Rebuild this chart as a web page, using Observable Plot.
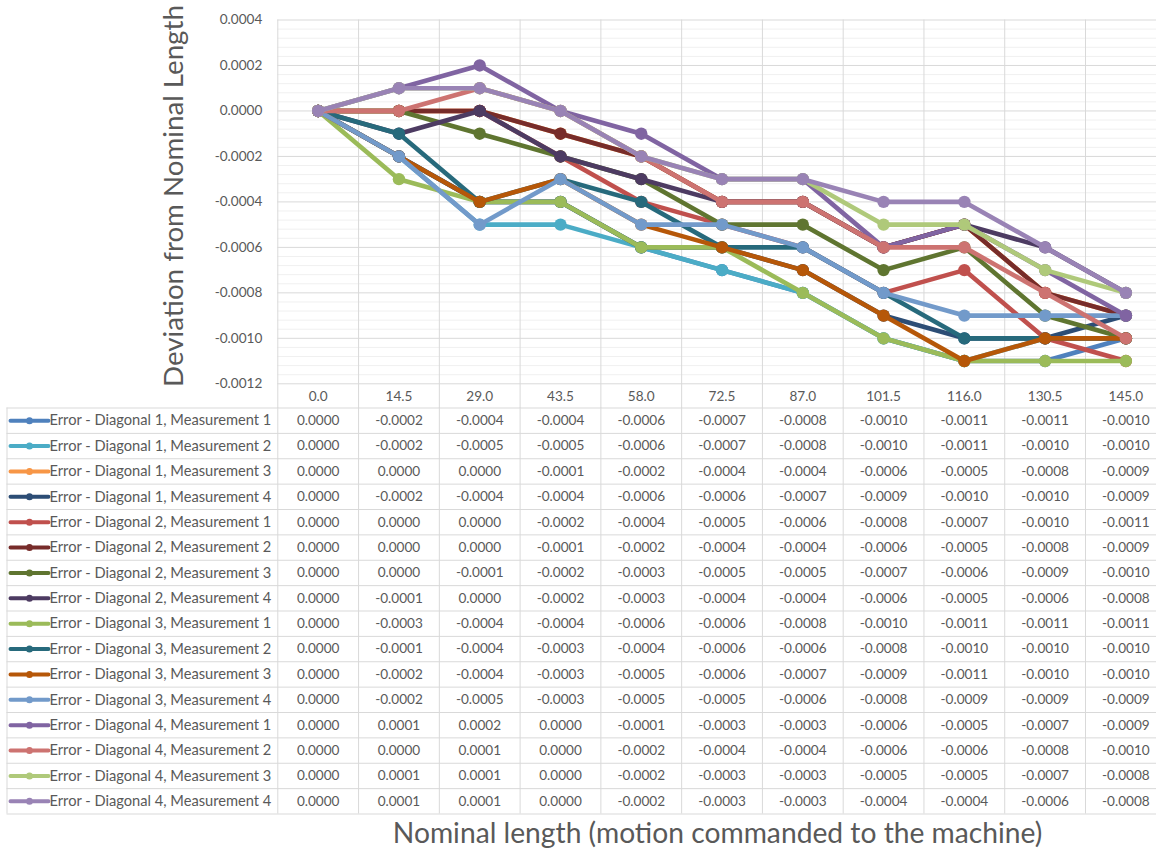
<!DOCTYPE html>
<html><head><meta charset="utf-8">
<script src="https://cdn.jsdelivr.net/npm/d3@7"></script>
<script src="https://cdn.jsdelivr.net/npm/@observablehq/plot@0.6"></script>
<style>
html,body{margin:0;padding:0;background:#fff;}
#wrap{position:relative;width:1156px;height:852px;overflow:hidden;background:#fff;}
#chart,#table{position:absolute;left:0;width:1168px;}
#chart{top:0;}
#table{top:407px;}
#titles{position:absolute;left:0;top:0;}
</style></head><body>
<div id="wrap"><div id="chart"></div><div id="table"></div><svg id="titles" width="1156" height="852"></svg></div>
<script>
// ---- data ----
const lengths = [0.0, 14.5, 29.0, 43.5, 58.0, 72.5, 87.0, 101.5, 116.0, 130.5, 145.0];
const seriesNames = [
  "Error - Diagonal 1, Measurement 1","Error - Diagonal 1, Measurement 2","Error - Diagonal 1, Measurement 3","Error - Diagonal 1, Measurement 4",
  "Error - Diagonal 2, Measurement 1","Error - Diagonal 2, Measurement 2","Error - Diagonal 2, Measurement 3","Error - Diagonal 2, Measurement 4",
  "Error - Diagonal 3, Measurement 1","Error - Diagonal 3, Measurement 2","Error - Diagonal 3, Measurement 3","Error - Diagonal 3, Measurement 4",
  "Error - Diagonal 4, Measurement 1","Error - Diagonal 4, Measurement 2","Error - Diagonal 4, Measurement 3","Error - Diagonal 4, Measurement 4"
];
const seriesColors = ["#4F81BD","#4BACC6","#F79646","#2C4D75","#C0504D","#772C2A","#5F7530","#4D3B62",
                      "#9BBB59","#276A7C","#B65708","#729ACA","#8064A2","#CD7371","#AFC97A","#9983B5"];
const d1m1 = [0.0000,-0.0002,-0.0004,-0.0004,-0.0006,-0.0007,-0.0008,-0.0010,-0.0011,-0.0011,-0.0010];
const d1m2 = [0.0000,-0.0002,-0.0005,-0.0005,-0.0006,-0.0007,-0.0008,-0.0010,-0.0011,-0.0010,-0.0010];
const d1m3 = [0.0000, 0.0000, 0.0000,-0.0001,-0.0002,-0.0004,-0.0004,-0.0006,-0.0005,-0.0008,-0.0009];
const d1m4 = [0.0000,-0.0002,-0.0004,-0.0004,-0.0006,-0.0006,-0.0007,-0.0009,-0.0010,-0.0010,-0.0009];
const d2m1 = [0.0000, 0.0000, 0.0000,-0.0002,-0.0004,-0.0005,-0.0006,-0.0008,-0.0007,-0.0010,-0.0011];
const d2m2 = [0.0000, 0.0000, 0.0000,-0.0001,-0.0002,-0.0004,-0.0004,-0.0006,-0.0005,-0.0008,-0.0009];
const d2m3 = [0.0000, 0.0000,-0.0001,-0.0002,-0.0003,-0.0005,-0.0005,-0.0007,-0.0006,-0.0009,-0.0010];
const d2m4 = [0.0000,-0.0001, 0.0000,-0.0002,-0.0003,-0.0004,-0.0004,-0.0006,-0.0005,-0.0006,-0.0008];
const d3m1 = [0.0000,-0.0003,-0.0004,-0.0004,-0.0006,-0.0006,-0.0008,-0.0010,-0.0011,-0.0011,-0.0011];
const d3m2 = [0.0000,-0.0001,-0.0004,-0.0003,-0.0004,-0.0006,-0.0006,-0.0008,-0.0010,-0.0010,-0.0010];
const d3m3 = [0.0000,-0.0002,-0.0004,-0.0003,-0.0005,-0.0006,-0.0007,-0.0009,-0.0011,-0.0010,-0.0010];
const d3m4 = [0.0000,-0.0002,-0.0005,-0.0003,-0.0005,-0.0005,-0.0006,-0.0008,-0.0009,-0.0009,-0.0009];
const d4m1 = [0.0000, 0.0001, 0.0002, 0.0000,-0.0001,-0.0003,-0.0003,-0.0006,-0.0005,-0.0007,-0.0009];
const d4m2 = [0.0000, 0.0000, 0.0001, 0.0000,-0.0002,-0.0004,-0.0004,-0.0006,-0.0006,-0.0008,-0.0010];
const d4m3 = [0.0000, 0.0001, 0.0001, 0.0000,-0.0002,-0.0003,-0.0003,-0.0005,-0.0005,-0.0007,-0.0008];
const d4m4 = [0.0000, 0.0001, 0.0001, 0.0000,-0.0002,-0.0003,-0.0003,-0.0004,-0.0004,-0.0006,-0.0008];
const seriesValues = [d1m1,d1m2,d1m3,d1m4,d2m1,d2m2,d2m3,d2m4,d3m1,d3m2,d3m3,d3m4,d4m1,d4m2,d4m3,d4m4];
const yTitle = "Deviation from Nominal Length";
const xTitle = "Nominal length (motion commanded to the machine)";

// ---- build rows ----
const rows = [];
seriesNames.forEach((s, i) => lengths.forEach((x, j) => rows.push({series: s, row: i, x, value: seriesValues[i][j]})));

// ---- fonts ----
const FONT = "Lato, 'Open Sans', sans-serif";
const ctx = document.createElement("canvas").getContext("2d");
function fit(text, w) { ctx.font = `100px ${FONT}`; return 100 * w / ctx.measureText(text).width; }
const cellFS = fit("-0.0002", 47.7);
const legFS = fit(seriesNames[0], 222.4);
const yTitleFS = fit(yTitle, 382);
const xTitleFS = fit(xTitle, 650);
const TXT = "#595959";

// ---- layout ----
const W = 1168, ML = 277.3, colW = 80.77;
const MR = W - (ML + lengths.length * colW);
const step = lengths[1] - lengths[0];
const xDomain = [lengths[0] - step / 2, lengths[lengths.length - 1] + step / 2];
const bounds = lengths.map(v => v - step / 2).concat([lengths[lengths.length - 1] + step / 2]);
const major = d3.range(-12, 5, 2).map(k => k / 10000);
const minor = d3.range(-30, 11).filter(k => k % 5 !== 0).map(k => k * 0.00004);
const chartH = 408, plotBottom = 383.3;

const marks = [
  Plot.ruleY(minor, {stroke: "#f0f0f0"}),
  Plot.ruleY(major, {stroke: "#d9d9d9"}),
  Plot.ruleX(bounds, {stroke: "#d9d9d9", insetBottom: -(chartH - plotBottom)})
];
seriesNames.forEach((s) => {
  const data = rows.filter(r => r.series === s);
  marks.push(Plot.line(data, {x: "x", y: "value", stroke: "series", strokeWidth: 4.6, strokeLinejoin: "round", strokeLinecap: "round"}));
  marks.push(Plot.dot(data, {x: "x", y: "value", fill: "series", r: 6.2}));
});

const chart = Plot.plot({
  width: W, height: chartH,
  marginLeft: ML, marginRight: MR, marginTop: 19.5, marginBottom: chartH - plotBottom,
  style: {background: "transparent", color: TXT, fontFamily: FONT, fontSize: `${cellFS}px`, maxWidth: "none", overflow: "visible"},
  x: {type: "linear", domain: xDomain, ticks: lengths, tickFormat: d => d.toFixed(1), tickSize: 0, tickPadding: 8, label: null},
  y: {domain: [-0.0012, 0.0004], ticks: major, tickFormat: d => d.toFixed(4), tickSize: 0, tickPadding: 15.5, label: null},
  color: {domain: seriesNames, range: seriesColors},
  marks
});
document.getElementById("chart").appendChild(chart);

// ---- data table ----
const nRows = seriesNames.length;
const swatch = {draw(c) {
  const hw = 19, hh = 2;
  c.moveTo(-hw, -hh); c.lineTo(hw, -hh); c.arc(hw, 0, hh, -Math.PI / 2, Math.PI / 2);
  c.lineTo(-hw, hh); c.arc(-hw, 0, hh, Math.PI / 2, 3 * Math.PI / 2); c.closePath();
  c.moveTo(3.5, 0); c.arc(0, 0, 3.5, 0, 2 * Math.PI); c.closePath();
}};
const tableLeft = 6.5;
const table = Plot.plot({
  width: W, height: 408,
  marginLeft: ML, marginRight: MR, marginTop: 0.5, marginBottom: 1.5,
  style: {background: "transparent", color: TXT, fontFamily: FONT, fontSize: `${cellFS}px`, maxWidth: "none", overflow: "visible"},
  x: {type: "linear", domain: xDomain, axis: null},
  y: {type: "linear", domain: [nRows - 0.5, -0.5], axis: null},
  color: {domain: seriesNames, range: seriesColors},
  marks: [
    Plot.ruleX(bounds, {stroke: "#d9d9d9"}),
    Plot.ruleY(d3.range(nRows + 1).map(i => i - 0.5), {stroke: "#d9d9d9", insetLeft: -(ML - tableLeft)}),
    Plot.ruleX([xDomain[0]], {stroke: "#d9d9d9", dx: tableLeft - ML}),
    Plot.text(rows, {x: "x", y: "row", text: d => d.value.toFixed(4), fill: TXT, fontSize: cellFS}),
    Plot.text(seriesNames, {y: (d, i) => i, text: d => d, frameAnchor: "left", dx: 49 - ML, textAnchor: "start", fill: TXT, fontSize: legFS}),
    Plot.dot(seriesNames, {y: (d, i) => i, frameAnchor: "left", dx: 29 - ML, symbol: swatch, fill: d => d})
  ]
});
document.getElementById("table").appendChild(table);

// ---- axis titles ----
const ns = "http://www.w3.org/2000/svg";
const titles = document.getElementById("titles");
function addText(str, attrs, size) {
  const t = document.createElementNS(ns, "text");
  for (const k in attrs) t.setAttribute(k, attrs[k]);
  t.setAttribute("font-family", FONT); t.setAttribute("font-size", size); t.setAttribute("fill", TXT);
  t.textContent = str; titles.appendChild(t);
}
addText(yTitle, {transform: "translate(183,196) rotate(-90)", "text-anchor": "middle"}, yTitleFS);
addText(xTitle, {x: 717.6, y: 843, "text-anchor": "middle"}, xTitleFS);
</script></body></html>
